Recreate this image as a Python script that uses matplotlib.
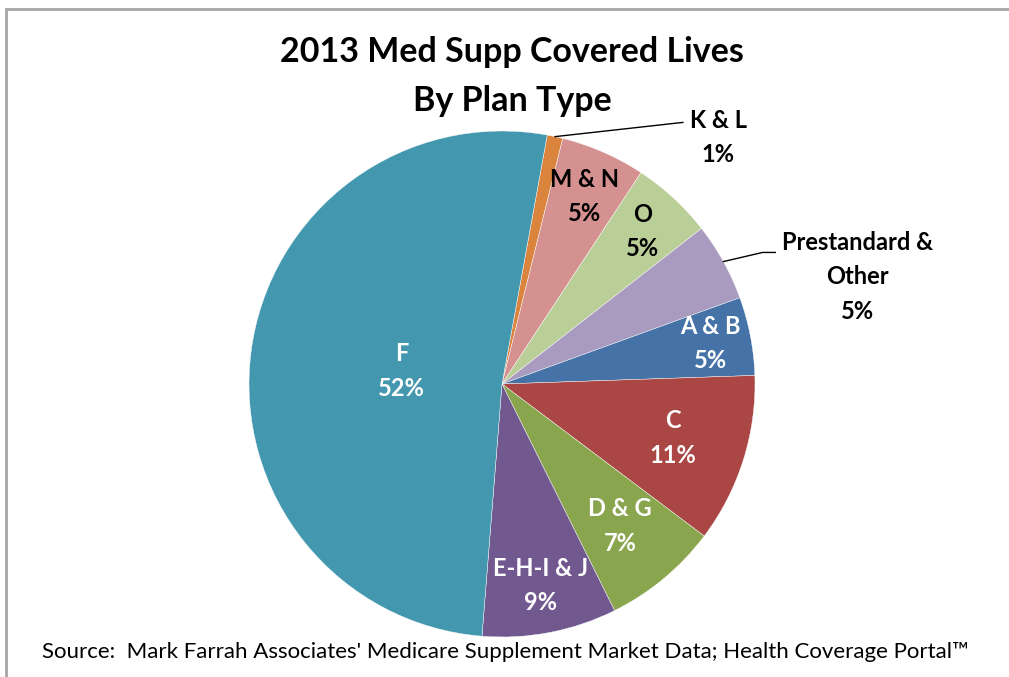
import numpy as np
import matplotlib
matplotlib.use('Agg')
from matplotlib import pyplot as plt
from matplotlib.patches import Rectangle

plt.rcParams['font.family'] = ['Lato', 'DejaVu Sans']

# Data (slice order clockwise from the K & L slice)
plans = ['K & L', 'M & N', 'O', 'Prestandard &\nOther', 'A & B', 'C', 'D & G', 'E-H-I & J', 'F']
shares = [1.0, 5.4, 5.2, 5.0, 5.0, 10.8, 7.4, 8.6, 51.6]
pct_labels = ['1%', '5%', '5%', '5%', '5%', '11%', '7%', '9%', '52%']
title_lines = ['2013 Med Supp Covered Lives', 'By Plan Type']

colors = ['#DB843D', '#D4918F', '#BACF98', '#A89BBF', '#4572A7',
          '#AA4643', '#89A54E', '#71588F', '#4397AE']
text_colors = ['black', 'black', 'black', 'black', 'white',
               'white', 'white', 'white', 'white']
# label radius inside the pie (None = outside with a leader line)
label_r = [None, 0.81, 0.82, None, 0.84, 0.71, 0.73, 0.81, 0.40]

W, H = 1009, 677
fig = plt.figure(figsize=(W / 100, H / 100), dpi=100)

# pie centre (502, 384) px, radius 253 px
cx, cy, R = 502, 384, 253
ax = fig.add_axes([(cx - R) / W, (H - cy - R) / H, 2 * R / W, 2 * R / H])
wedges, _ = ax.pie(shares, colors=colors, startangle=90 - 10.3, counterclock=False,
                   radius=1, wedgeprops=dict(edgecolor='white', linewidth=0.3))
ax.set_xlim(-1, 1)
ax.set_ylim(-1, 1)
ax.set_aspect('equal')
ax.axis('off')

lab_size = 17
for w, name, pct, r, tc in zip(wedges, plans, pct_labels, label_r, text_colors):
    if r is None:
        continue
    mid = np.deg2rad((w.theta1 + w.theta2) / 2)
    ax.text(r * np.cos(mid), r * np.sin(mid), name + '\n' + pct, color=tc,
            ha='center', va='center', fontsize=lab_size, fontweight='bold', linespacing=1.6)

# outside labels with leader lines
outside = {0: ((0.715, 1.034), (0.854, 0.975)),
           3: ((1.08, 0.52), (1.405, 0.423))}
for i, (elbow, pos) in outside.items():
    w = wedges[i]
    mid = np.deg2rad((w.theta1 + w.theta2) / 2)
    x0, y0 = np.cos(mid), np.sin(mid)
    if i == 3:
        ax.plot([x0, elbow[0] - 0.05, elbow[0]], [y0, elbow[1], elbow[1]],
                color='black', lw=1, clip_on=False)
    else:
        ax.plot([x0, elbow[0]], [y0, elbow[1]], color='black', lw=1, clip_on=False)
    ax.text(pos[0], pos[1], plans[i] + '\n' + pct_labels[i], color='black',
            ha='center', va='center', fontsize=lab_size, fontweight='bold',
            linespacing=1.6, clip_on=False)

# title, one text per line
for line, ty in zip(title_lines, [52, 101]):
    fig.text(512 / W, 1 - ty / H, line, ha='center', va='center',
             fontsize=24.5, fontweight='bold')

fig.text(42 / W, 1 - 652 / H,
         "Source:  Mark Farrah Associates' Medicare Supplement Market Data; Health Coverage Portal\u2122",
         ha='left', va='center', fontsize=16)

# chart border (only top and left edges are inside the picture)
fig.add_artist(Rectangle((6 / W, -0.1), 1.2, 1.1 - 8.5 / H, transform=fig.transFigure,
                         fill=False, edgecolor='#A6A6A6', lw=2))

fig.savefig('out.png', dpi=100)
